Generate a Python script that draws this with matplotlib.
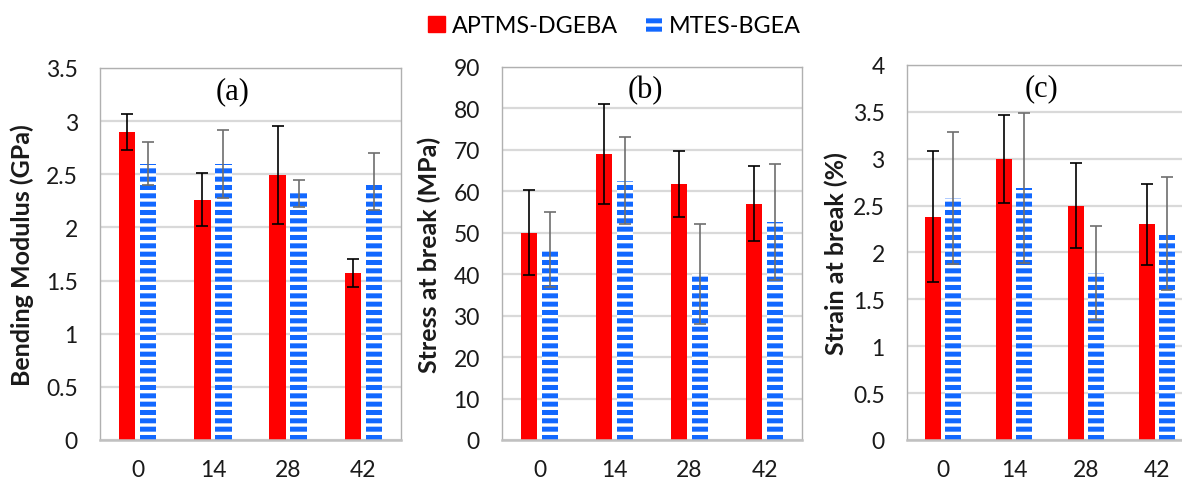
import matplotlib
matplotlib.use("Agg")
import matplotlib.pyplot as plt
import matplotlib.patches as mpatches
import numpy as np

# days of immersion
days = ["0", "14", "28", "42"]

# (a) bending modulus, GPa
mod_aptms = [2.90, 2.26, 2.49, 1.57]
mod_aptms_err = [0.17, 0.25, 0.46, 0.13]
mod_mtes = [2.60, 2.60, 2.32, 2.43]
mod_mtes_err = [0.20, 0.32, 0.13, 0.27]

# (b) stress at break, MPa
str_aptms = [50.0, 69.0, 61.7, 57.0]
str_aptms_err = [10.2, 12.0, 8.0, 9.0]
str_mtes = [46.0, 62.5, 40.0, 52.5]
str_mtes_err = [9.0, 10.5, 12.0, 14.0]

# (c) strain at break, %
stn_aptms = [2.38, 3.00, 2.50, 2.30]
stn_aptms_err = [0.70, 0.47, 0.45, 0.43]
stn_mtes = [2.58, 2.69, 1.78, 2.20]
stn_mtes_err = [0.70, 0.80, 0.50, 0.60]

RED = "#ff0000"
BLUE = "#1268ff"

plt.rcParams["font.family"] = ["Lato", "DejaVu Sans"]
plt.rcParams["hatch.linewidth"] = 3.6

fig = plt.figure(figsize=(11.82, 4.81), dpi=100)

panels = [
    # rect, values and errors, ymax, tick step, ylabel, tag, label x, tag x
    ([0.0846, 0.0832, 0.2547, 0.7734], mod_aptms, mod_aptms_err, mod_mtes, mod_mtes_err,
     3.5, 0.5, "Bending Modulus (GPa)", "(a)", -0.218, 0.44),
    ([0.4247, 0.0832, 0.2538, 0.7755], str_aptms, str_aptms_err, str_mtes, str_mtes_err,
     90, 10, "Stress at break (MPa)", "(b)", -0.202, 0.477),
    ([0.7673, 0.0832, 0.2420, 0.7796], stn_aptms, stn_aptms_err, stn_mtes, stn_mtes_err,
     4, 0.5, "Strain at break (%)", "(c)", -0.207, 0.47),
]

x = np.arange(len(days))
w = 0.22
off = 0.14

for rect, ya, ea, yb, eb, ymax, step, ylab, tag, lx, tx in panels:
    ax = fig.add_axes(rect)
    ax.bar(x - off, ya, w, color=RED, zorder=2)
    ax.errorbar(x - off, ya, yerr=ea, fmt="none", ecolor="black",
                elinewidth=1.2, capsize=4.5, capthick=1.2, zorder=3)
    ax.bar(x + off, yb, w, color="white", edgecolor=BLUE, linewidth=0,
           hatch="--", zorder=2)
    ax.errorbar(x + off, yb, yerr=eb, fmt="none", ecolor="#6e6e6e",
                elinewidth=1.2, capsize=4.5, capthick=1.2, zorder=3)

    ax.set_xlim(-0.5, 3.5)
    ax.set_ylim(0, ymax)
    yt = np.arange(0, ymax + step / 2, step)
    ax.set_yticks(yt)
    ax.set_yticklabels([f"{v:g}" for v in yt])
    ax.set_xticks(x)
    ax.set_xticklabels(days)
    ax.tick_params(axis="both", length=0, labelsize=16.5, colors="#1a1a1a")
    ax.tick_params(axis="x", pad=14)
    ax.tick_params(axis="y", pad=16)

    ax.grid(axis="y", color="#d9d9d9", linewidth=1.6, zorder=0)
    ax.set_axisbelow(True)
    for side in ["left", "top", "right"]:
        ax.spines[side].set_color("#b0b0b0")
        ax.spines[side].set_linewidth(1.0)
    ax.spines["bottom"].set_color("#c0c0c0")
    ax.spines["bottom"].set_linewidth(1.8)

    ax.set_ylabel(ylab, fontsize=18, fontweight="bold", color="#1a1a1a")
    ax.yaxis.set_label_coords(lx, 0.5)
    ax.text(tx, 0.94, tag, transform=ax.transAxes, ha="center", va="center",
            fontsize=22, family="Liberation Serif")

h_red = mpatches.Patch(facecolor=RED, edgecolor=RED)
h_blue = mpatches.Patch(facecolor="white", edgecolor=BLUE, linewidth=0, hatch="--")
fig.legend([h_red, h_blue], ["APTMS-DGEBA", "MTES-BGEA"], loc="center",
           bbox_to_anchor=(0.52, 0.944), ncol=2, frameon=False, fontsize=16.8,
           handlelength=0.7, handleheight=0.7, handletextpad=0.3,
           columnspacing=1.2)

fig.savefig("out.png", dpi=100)
